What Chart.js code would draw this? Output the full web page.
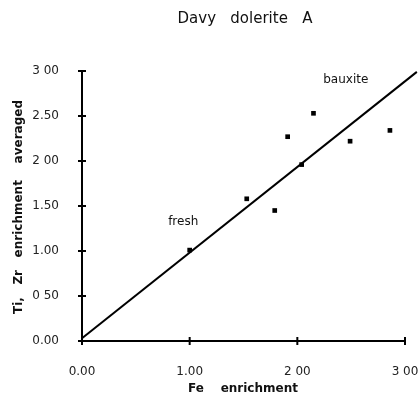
<!DOCTYPE html>
<html>
<head>
<meta charset="utf-8">
<script src="https://cdn.jsdelivr.net/npm/chart.js@4/dist/chart.umd.min.js"></script>
<style>
  html, body { margin: 0; padding: 0; background: #fff; }
  #wrap { width: 418px; height: 397px; }
</style>
</head>
<body>
<div id="wrap"><canvas id="myChart"></canvas></div>
<script>
// Fe enrichment vs Ti, Zr enrichment averaged
const feValues = [1.00, 1.53, 1.79, 1.91, 2.04, 2.15, 2.49, 2.86];
const tiZrValues = [1.01, 1.58, 1.45, 2.27, 1.96, 2.53, 2.22, 2.34];

// fitted line end points
const lineX = [0, 3.11];
const lineY = [0.03, 2.99];

// tick labels as printed
const xTickLabels = ["0.00", "1.00", "2 00", "3 00"];
const yTickLabels = ["0.00", "0 50", "1.00", "1.50", "2 00", "2.50", "3 00"];

// text labels on the plot
const notes = [
  { text: "fresh", x: 0.94, y: 1.32 },
  { text: "bauxite", x: 2.45, y: 2.90 },
];

const title = "Davy   dolerite   A";
const xTitle = "Fe    enrichment";
const yTitle = "Ti,   Zr   enrichment    averaged";

const fontFam = "'DejaVu Sans', Verdana, sans-serif";

let points = [];
for (let i = 0; i < feValues.length; i++) {
  points.push({ x: feValues[i], y: tiZrValues[i] });
}
let linePoints = [];
for (let i = 0; i < lineX.length; i++) {
  linePoints.push({ x: lineX[i], y: lineY[i] });
}

const textPlugin = {
  id: "textPlugin",
  afterDraw(chart) {
    const c = chart.ctx;
    const xs = chart.scales.x;
    const ys = chart.scales.y;
    c.save();
    c.fillStyle = "#111";
    c.strokeStyle = "#000";
    c.lineWidth = 2;

    // tick marks crossing the axes
    xs.ticks.forEach((t) => {
      const px = xs.getPixelForValue(t.value);
      c.beginPath();
      c.moveTo(px, ys.bottom - 4);
      c.lineTo(px, ys.bottom + 4);
      c.stroke();
    });
    ys.ticks.forEach((t) => {
      const py = ys.getPixelForValue(t.value);
      c.beginPath();
      c.moveTo(xs.left - 4, py);
      c.lineTo(xs.left + 4, py);
      c.stroke();
    });

    c.textAlign = "center";
    c.textBaseline = "middle";

    c.font = "15px " + fontFam;
    c.fillText(title, 245, 19);

    c.font = "bold 12px " + fontFam;
    c.fillText(xTitle, 243, 389);

    c.save();
    c.translate(19, 207);
    c.rotate(-Math.PI / 2);
    c.fillText(yTitle, 0, 0);
    c.restore();

    c.font = "12px " + fontFam;
    notes.forEach((n) => {
      c.fillText(n.text, xs.getPixelForValue(n.x), ys.getPixelForValue(n.y));
    });
    c.restore();
  },
};

const ctx = document.getElementById("myChart");
new Chart(ctx, {
  type: "scatter",
  data: {
    datasets: [
      {
        label: "samples",
        data: points,
        pointStyle: "rect",
        pointRadius: 3.3,
        pointBorderWidth: 0,
        backgroundColor: "#000",
        borderColor: "#000",
      },
      {
        label: "line",
        data: linePoints,
        showLine: true,
        pointRadius: 0,
        borderColor: "#000",
        borderWidth: 2,
        clip: false,
      },
    ],
  },
  options: {
    responsive: true,
    maintainAspectRatio: false,
    animation: false,
    layout: { padding: { top: 71, right: 13, left: 0, bottom: 0 } },
    plugins: {
      legend: { display: false },
      tooltip: { enabled: false },
      title: { display: false },
    },
    scales: {
      x: {
        type: "linear",
        min: 0,
        max: 3,
        afterFit: (scale) => {
          scale.height = 56;
          scale.paddingRight = 0;
          scale.paddingLeft = 0;
        },
        grid: { display: false },
        border: { display: true, color: "#000", width: 2 },
        ticks: {
          stepSize: 1,
          padding: 16,
          color: "#222",
          font: { family: fontFam, size: 12 },
          callback: (v, i) => xTickLabels[i],
        },
      },
      y: {
        type: "linear",
        min: 0,
        max: 3,
        afterFit: (scale) => {
          scale.width = 82;
          scale.paddingTop = 0;
          scale.paddingBottom = 0;
        },
        grid: { display: false },
        border: { display: true, color: "#000", width: 2 },
        ticks: {
          stepSize: 0.5,
          padding: 15,
          color: "#222",
          font: { family: fontFam, size: 12 },
          callback: (v, i) => yTickLabels[i],
        },
      },
    },
  },
  plugins: [textPlugin],
});
</script>
</body>
</html>
